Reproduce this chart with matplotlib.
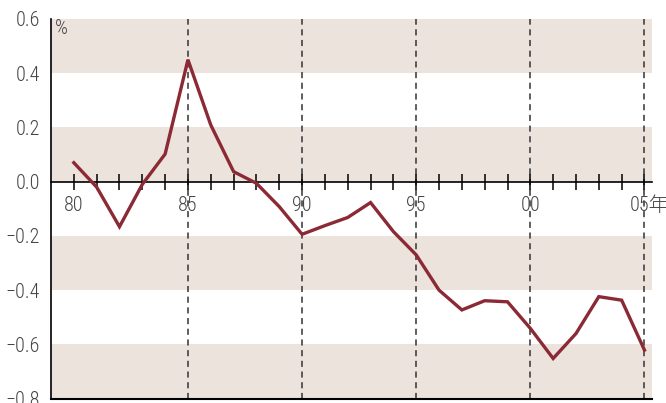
import matplotlib
matplotlib.use("Agg")
import matplotlib.pyplot as plt
from matplotlib import font_manager as fm
from matplotlib.transforms import ScaledTranslation

years = list(range(1980, 2006))
values = [0.07, -0.02, -0.166, -0.01, 0.102, 0.45, 0.209, 0.037, -0.006, -0.092,
          -0.194, -0.162, -0.132, -0.077, -0.184, -0.27, -0.40, -0.473, -0.439, -0.443,
          -0.541, -0.652, -0.56, -0.424, -0.437, -0.621]
major_years = [1980, 1985, 1990, 1995, 2000, 2005]
major_labels = ["80", "85", "90", "95", "00", "05年"]
y_ticks = [0.6, 0.4, 0.2, 0.0, -0.2, -0.4, -0.6, -0.8]
bands = [(0.4, 0.6), (0.0, 0.2), (-0.4, -0.2), (-0.8, -0.6)]

names = {f.name for f in fm.fontManager.ttflist}
base = "Liberation Sans"
for cand in ["Liberation Sans Narrow", "Roboto Condensed", "Open Sans Condensed",
             "Noto Sans Condensed"]:
    if cand in names:
        base = cand
        break
fams = [base, "Noto Sans CJK JP", "DejaVu Sans"]
plt.rcParams['font.family'] = fams
plt.rcParams['font.weight'] = 'light'

txt_color = "#444444"
line_color = "#8b2a35"
band_color = "#ede3dd"

fig = plt.figure(figsize=(6.66, 4.03), dpi=100)
ax = fig.add_axes([51/666, 1 - 398.6/403, (652-51)/666, (398.6-19)/403])
ax.set_xlim(1979.0, 2005.33)
ax.set_ylim(-0.8, 0.6)

for lo, hi in bands:
    ax.axhspan(lo, hi, color=band_color, lw=0, zorder=0)

for yr in major_years[1:]:
    ax.axvline(yr, color="#333333", lw=1.1, ls=(0, (4, 3)), zorder=1)

ax.plot(years, values, color=line_color, lw=2.4, zorder=3, solid_joinstyle='miter')

for s in ["top", "right"]:
    ax.spines[s].set_visible(False)
ax.spines['bottom'].set_position(('data', 0))
ax.spines['bottom'].set_color("black")
ax.spines['left'].set_color("black")
ax.spines['left'].set_linewidth(1.2)
ax.spines['bottom'].set_linewidth(1.2)
ax.axhline(-0.8, color="black", lw=1.5, zorder=2, clip_on=False)

ax.set_xticks(major_years)
ax.set_xticklabels(major_labels)
ax.set_xticks(years, minor=True)
ax.tick_params(axis='x', which='both', direction='inout', length=11, width=1.1,
               color="black", labelsize=14.5, labelcolor=txt_color, pad=5)
ax.tick_params(axis='x', which='minor', labelbottom=False)

last = ax.get_xticklabels()[-1]
last.set_transform(last.get_transform() + ScaledTranslation(3.5/72, 0, fig.dpi_scale_trans))

ax.set_yticks(y_ticks)
ax.set_yticklabels([f"{v:.1f}".replace("-", "\u2212") for v in y_ticks])
ax.tick_params(axis='y', length=0, labelsize=14.5, labelcolor=txt_color, pad=8)

ax.text(1979.15, 0.6, "%", fontsize=14.5, color=txt_color, va='top', ha='left')

fig.savefig("out.png", dpi=100)
